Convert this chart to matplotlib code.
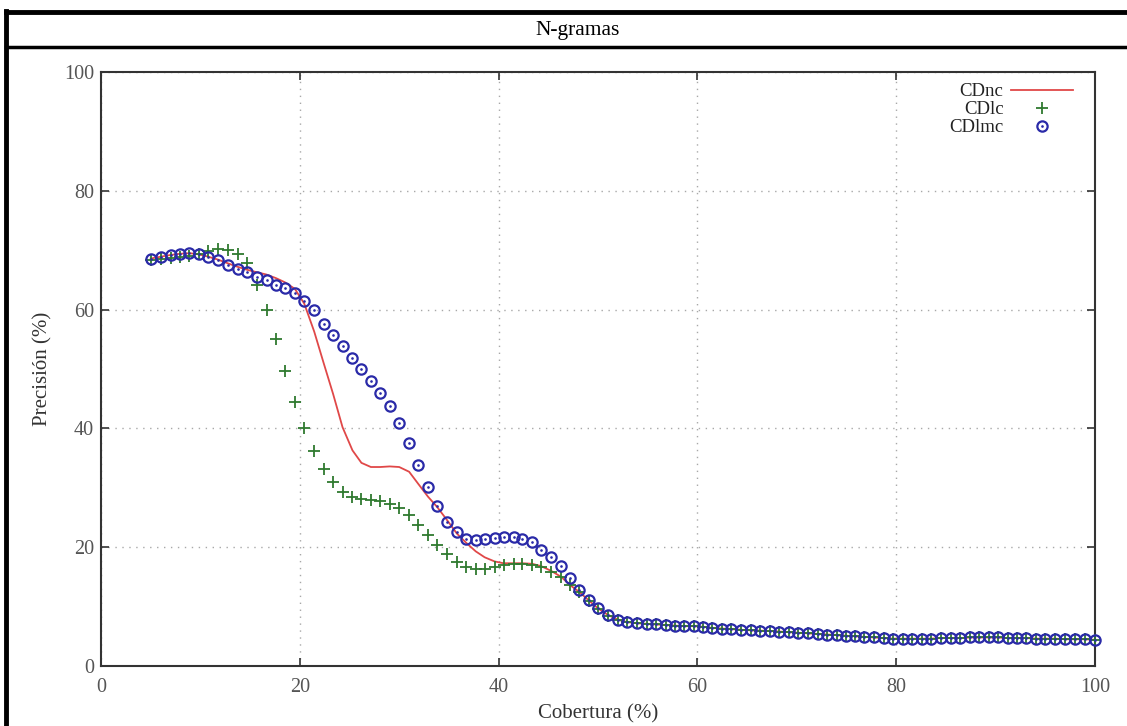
import matplotlib
matplotlib.use("Agg")
import matplotlib.pyplot as plt
from matplotlib.lines import Line2D

# ---------------- data ----------------
cobertura = [
    5.0, 6.0, 7.0, 7.95, 8.9, 9.85, 10.8, 11.8, 12.75, 13.75,
    14.7, 15.65, 16.65, 17.6, 18.5, 19.5, 20.45, 21.45, 22.4, 23.35,
    24.3, 25.3, 26.2, 27.15, 28.1, 29.05, 30.0, 31.0, 31.9, 32.9,
    33.8, 34.8, 35.8, 36.7, 37.7, 38.6, 39.6, 40.5, 41.5, 42.4,
    43.4, 44.3, 45.3, 46.3, 47.2, 48.1, 49.1, 50.0, 51.0, 52.0,
    52.9, 53.9, 54.9, 55.8, 56.8, 57.7, 58.7, 59.7, 60.6, 61.5,
    62.5, 63.4, 64.4, 65.4, 66.3, 67.3, 68.2, 69.2, 70.1, 71.1,
    72.1, 73.0, 74.0, 74.9, 75.9, 76.8, 77.8, 78.8, 79.7, 80.7,
    81.6, 82.6, 83.5, 84.5, 85.5, 86.4, 87.4, 88.3, 89.3, 90.2,
    91.2, 92.2, 93.1, 94.1, 95.0, 96.0, 97.0, 98.0, 99.0, 100.0,
]

cdlmc = [
    68.6, 68.9, 69.2, 69.4, 69.5, 69.4, 68.8, 68.3, 67.5, 66.9,
    66.3, 65.5, 65.0, 64.2, 63.7, 62.8, 61.4, 59.9, 57.6, 55.8,
    53.9, 51.9, 50.0, 47.9, 46.0, 43.7, 40.9, 37.6, 33.8, 30.2,
    26.9, 24.2, 22.5, 21.4, 21.2, 21.4, 21.6, 21.7, 21.7, 21.3,
    20.8, 19.6, 18.4, 16.9, 14.8, 12.8, 11.1, 9.7, 8.6, 7.8,
    7.4, 7.2, 7.1, 7.0, 6.9, 6.8, 6.7, 6.7, 6.6, 6.4,
    6.3, 6.2, 6.1, 6.0, 5.95, 5.9, 5.8, 5.7, 5.6, 5.5,
    5.4, 5.3, 5.2, 5.1, 5.0, 4.9, 4.8, 4.7, 4.6, 4.6,
    4.6, 4.6, 4.6, 4.7, 4.7, 4.7, 4.8, 4.8, 4.8, 4.8,
    4.7, 4.7, 4.7, 4.6, 4.6, 4.6, 4.5, 4.5, 4.5, 4.4,
]

cdlc = [
    68.4, 68.5, 68.7, 68.9, 69.1, 69.4, 69.9, 70.2, 70.1, 69.3,
    67.8, 64.1, 60.0, 55.0, 49.6, 44.4, 40.0, 36.2, 33.1, 30.9,
    29.3, 28.4, 28.1, 27.9, 27.8, 27.3, 26.6, 25.4, 23.7, 22.1,
    20.3, 18.8, 17.5, 16.7, 16.4, 16.4, 16.7, 17.0, 17.1, 17.1,
    17.0, 16.6, 15.9, 14.9, 13.6, 12.4, 10.9, 9.6, 8.5, 7.8,
    7.4, 7.2, 7.1, 7.0, 6.9, 6.8, 6.7, 6.7, 6.6, 6.4,
    6.3, 6.2, 6.1, 6.0, 5.95, 5.9, 5.8, 5.7, 5.6, 5.5,
    5.4, 5.3, 5.2, 5.1, 5.0, 4.9, 4.8, 4.7, 4.6, 4.6,
    4.6, 4.6, 4.6, 4.7, 4.7, 4.7, 4.8, 4.8, 4.8, 4.8,
    4.7, 4.7, 4.7, 4.6, 4.6, 4.6, 4.5, 4.5, 4.5, 4.4,
]

cdnc = [
    68.6, 68.9, 69.2, 69.4, 69.5, 69.3, 68.9, 68.4, 67.8, 67.2,
    66.7, 66.3, 65.9, 65.3, 64.6, 63.5, 61.0, 56.3, 51.0, 45.8,
    40.2, 36.3, 34.2, 33.5, 33.5, 33.6, 33.5, 32.7, 30.7, 28.5,
    26.8, 24.6, 22.3, 20.8, 19.3, 18.3, 17.6, 17.3, 17.3, 17.3,
    17.2, 16.8, 16.0, 15.0, 13.6, 12.5, 11.0, 9.7, 8.6, 7.8,
    7.4, 7.2, 7.1, 7.0, 6.9, 6.8, 6.7, 6.7, 6.6, 6.4,
    6.3, 6.2, 6.1, 6.0, 5.95, 5.9, 5.8, 5.7, 5.6, 5.5,
    5.4, 5.3, 5.2, 5.1, 5.0, 4.9, 4.8, 4.7, 4.6, 4.6,
    4.6, 4.6, 4.6, 4.7, 4.7, 4.7, 4.8, 4.8, 4.8, 4.8,
    4.7, 4.7, 4.7, 4.6, 4.6, 4.6, 4.5, 4.5, 4.5, 4.4,
]

x_ticks = [0, 20, 40, 60, 80, 100]
y_ticks = [0, 20, 40, 60, 80, 100]
title = "N-gramas"
x_label = "Cobertura (%)"
y_label = "Precisión (%)"
labels = ["CDnc", "CDlc", "CDlmc"]

# ---------------- figure ----------------
plt.rcParams["font.family"] = ["Liberation Serif", "DejaVu Serif"]
W, H = 1127, 726
fig = plt.figure(figsize=(W / 100, H / 100), dpi=100)
ax = fig.add_axes([101 / W, 1 - 666 / H, 994 / W, 594 / H])

red = "#e04848"
green = "#2f7a2f"
blue = "#2a2aa8"

l_nc, = ax.plot(cobertura, cdnc, color=red, lw=1.3, zorder=3)
l_lc, = ax.plot(cobertura, cdlc, ls="none", marker="+", ms=8.5, mew=1.3,
                color=green, zorder=4, clip_on=False)
l_mc, = ax.plot(cobertura, cdlmc, ls="none", marker="o", ms=7.4, mfc="none",
                mec=blue, mew=1.6, zorder=5, clip_on=False)
l_dot, = ax.plot(cobertura, cdlmc, ls="none", marker=".", ms=1.8,
                 color=blue, zorder=5, clip_on=False)

ax.set_xlim(0, 100)
ax.set_ylim(0, 100)
ax.set_xticks(x_ticks)
ax.set_yticks(y_ticks)
ax.grid(True, color="#a8a8a8", ls=(0, (1, 4)), lw=1.0)
ax.set_axisbelow(True)
ax.tick_params(direction="in", length=6, width=1.2, top=True, right=True,
               labelsize=14.5, labelcolor="#555555", color="#333333", pad=5)
ax.tick_params(axis="x", pad=9)
for s in ax.spines.values():
    s.set_linewidth(1.5)
    s.set_color("#333333")

ax.set_xlabel(x_label, fontsize=15, color="#333333", labelpad=5)
ax.set_ylabel(y_label, fontsize=15, color="#333333", labelpad=8)

leg = fig.legend([l_nc, l_lc, (l_mc, l_dot)], labels,
                 loc="upper right", bbox_to_anchor=(1073 / W, 1 - 83 / H),
                 frameon=False, markerfirst=False, fontsize=13.5,
                 handlelength=3.3, handletextpad=0.4, labelspacing=0.05,
                 borderpad=0, borderaxespad=0)
for t in leg.get_texts():
    t.set_color("#222222")

# table-like frame around the chart
fig.add_artist(Line2D([5.5 / W, 1.0], [1 - 12 / H, 1 - 12 / H],
                      transform=fig.transFigure, color="black", lw=3.5))
fig.add_artist(Line2D([5.5 / W, 5.5 / W], [0, 1 - 10.5 / H],
                      transform=fig.transFigure, color="black", lw=3.5))
fig.add_artist(Line2D([5.5 / W, 1.0], [1 - 47 / H, 1 - 47 / H],
                      transform=fig.transFigure, color="black", lw=2.5))
fig.text(578 / W, 1 - 30 / H, title, ha="center", va="center",
         fontsize=15.5, color="black")

fig.savefig("out.png", dpi=100)
